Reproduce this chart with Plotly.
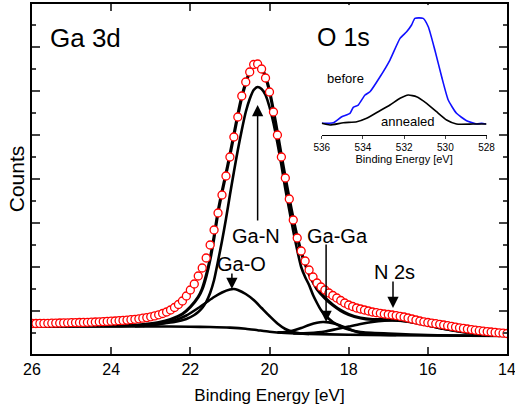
import plotly.graph_objects as go

# ---------------- main spectrum: Ga 3d (measured points, every 0.1 eV) -------------
energy = [26.0, 25.9, 25.8, 25.7, 25.6, 25.5, 25.4, 25.3, 25.2, 25.1,
          25.0, 24.9, 24.8, 24.7, 24.6, 24.5, 24.4, 24.3, 24.2, 24.1,
          24.0, 23.9, 23.8, 23.7, 23.6, 23.5, 23.4, 23.3, 23.2, 23.1,
          23.0, 22.9, 22.8, 22.7, 22.6, 22.5, 22.4, 22.3, 22.2, 22.1,
          22.0, 21.9, 21.8, 21.7, 21.6, 21.5, 21.4, 21.3, 21.2, 21.1,
          21.0, 20.9, 20.8, 20.7, 20.6, 20.5, 20.4, 20.3, 20.2, 20.1,
          20.0, 19.9, 19.8, 19.7, 19.6, 19.5, 19.4, 19.3, 19.2, 19.1,
          19.0, 18.9, 18.8, 18.7, 18.6, 18.5, 18.4, 18.3, 18.2, 18.1,
          18.0, 17.9, 17.8, 17.7, 17.6, 17.5, 17.4, 17.3, 17.2, 17.1,
          17.0, 16.9, 16.8, 16.7, 16.6, 16.5, 16.4, 16.3, 16.2, 16.1,
          16.0, 15.9, 15.8, 15.7, 15.6, 15.5, 15.4, 15.3, 15.2, 15.1,
          15.0, 14.9, 14.8, 14.7, 14.6, 14.5, 14.4, 14.3, 14.2, 14.1,
          14.0]
counts = [31.5, 31.5, 31.6, 31.6, 31.7, 31.8, 31.9, 32.0, 32.1, 32.2,
          32.3, 32.4, 32.5, 32.6, 32.7, 32.8, 33.0, 33.2, 33.4, 33.6,
          33.8, 34.0, 34.3, 34.6, 34.9, 35.3, 35.7, 36.2, 36.8, 37.4,
          38.2, 39.1, 40.2, 41.5, 43.0, 45.0, 47.5, 50.5, 54.0, 59.0,
          65.0, 71.0, 79.0, 87.0, 97.0, 110.0, 125.0, 142.0, 160.0, 179.0,
          198.0, 218.0, 238.0, 259.0, 273.0, 283.0, 290.5, 291.0, 286.0, 277.0,
          263.0, 243.0, 220.0, 198.0, 177.0, 156.0, 135.0, 117.0, 104.0, 94.0,
          85.0, 78.0, 72.0, 68.0, 65.0, 62.0, 59.5, 57.0, 54.5, 52.0,
          50.0, 48.5, 47.0, 46.0, 45.0, 44.0, 43.0, 42.3, 41.7, 41.0,
          40.5, 40.0, 39.4, 38.7, 38.0, 37.0, 36.0, 35.0, 34.0, 33.2,
          32.5, 31.9, 31.3, 30.7, 30.0, 29.3, 28.6, 27.9, 27.2, 26.6,
          26.0, 25.4, 24.8, 24.3, 23.8, 23.4, 23.0, 22.6, 22.2, 21.8,
          21.5]

# ---------------- fitted curves ------------------------------------------------------
env_E = [26.0, 24.0, 23.5, 23.2, 22.8, 22.5, 22.2, 22.0, 21.8, 21.7, 21.6, 21.5,
         21.4, 21.3, 21.2, 21.1, 21.0, 20.9, 20.8, 20.7, 20.6, 20.5, 20.4, 20.3,
         20.2, 20.1, 20.0, 19.9, 19.8, 19.7, 19.6, 19.5, 19.4, 19.3, 19.2, 19.1,
         19.0, 18.9, 18.8, 18.6, 18.4, 18.2, 18.0, 17.7, 17.4, 17.1, 16.8, 16.5,
         16.2, 15.9, 15.6, 15.3, 15.0, 14.6, 14.0]
env_c = [28.6, 29.0, 29.7, 30.5, 32.5, 35.5, 41.0, 48.0, 58.0, 66.0, 79.0, 96.0,
         118.0, 143.0, 163.0, 181.0, 200.0, 220.0, 240.0, 258.0, 272.0, 283.0, 289.0, 291.0,
         287.0, 278.0, 264.0, 244.0, 222.0, 199.0, 177.0, 156.0, 136.0, 118.0, 103.0, 91.0,
         81.0, 73.0, 66.0, 57.0, 50.0, 44.5, 40.5, 37.0, 35.5, 35.3, 35.0, 33.5,
         31.5, 29.0, 26.5, 24.5, 22.8, 21.2, 20.0]

bg_E = [26.0, 23.0, 22.0, 21.5, 21.0, 20.6, 20.3, 20.0, 19.6, 19.0, 18.0, 16.0, 14.0]
bg_c = [28.5, 28.5, 28.3, 28.0, 27.4, 26.3, 24.8, 23.3, 22.0, 21.0, 20.3, 19.5, 19.0]

gan_E = [23.2, 22.8, 22.4, 22.1, 21.9, 21.8, 21.7, 21.6, 21.5, 21.4, 21.3, 21.2,
         21.1, 21.0, 20.9, 20.8, 20.7, 20.6, 20.5, 20.4, 20.3, 20.2, 20.1, 20.0,
         19.9, 19.8, 19.7, 19.6, 19.5, 19.4, 19.3, 19.2, 19.1, 19.0, 18.9, 18.8,
         18.7, 18.6, 18.4, 18.2, 18.0, 17.7, 17.0, 16.0, 14.0]
gan_c = [29.0, 31.0, 33.0, 36.0, 40.0, 43.0, 47.0, 53.0, 62.0, 75.0, 94.0, 114.0,
         136.0, 160.0, 183.0, 205.0, 225.0, 243.0, 256.0, 265.0, 268.0, 266.0, 260.0, 248.0,
         232.0, 212.0, 190.0, 166.0, 145.0, 124.0, 105.0, 88.0, 78.0, 70.0, 60.0, 52.0,
         45.0, 40.0, 33.0, 28.5, 25.5, 23.0, 21.5, 20.0, 19.2]

gao_E = [23.4, 23.0, 22.7, 22.4, 22.1, 21.8, 21.6, 21.4, 21.2, 21.0, 20.9, 20.8,
         20.6, 20.4, 20.2, 20.0, 19.8, 19.6, 19.4, 19.2, 19.0]
gao_c = [28.8, 29.8, 31.5, 34.5, 39.5, 47.0, 52.5, 58.0, 62.5, 65.5, 66.0, 65.0,
         61.0, 55.0, 47.0, 39.0, 31.5, 26.0, 23.0, 21.5, 21.0]

gaga_E = [19.8, 19.6, 19.4, 19.2, 19.0, 18.8, 18.65, 18.5, 18.3, 18.1, 17.9, 17.7,
          17.5, 17.2, 16.8]
gaga_c = [22.6, 23.0, 24.5, 27.0, 30.0, 32.3, 33.0, 32.6, 30.8, 27.8, 24.5, 22.0,
          20.8, 20.2, 20.0]

n2s_E = [19.4, 19.0, 18.6, 18.3, 18.0, 17.7, 17.4, 17.1, 16.9, 16.6, 16.3, 16.0,
         15.7, 15.4, 15.1, 14.8, 14.4, 14.0]
n2s_c = [21.5, 22.0, 23.5, 26.0, 28.5, 31.0, 33.0, 34.2, 34.5, 34.0, 32.3, 29.8,
         27.0, 24.8, 22.8, 21.3, 20.0, 19.5]

# ---------------- inset: O 1s ----------------------------------------------------------
o1s_before_E = [536.0, 535.44, 535.03, 534.63, 534.47, 534.23, 533.9, 533.66, 533.17,
                532.69, 532.2, 531.88, 531.64, 531.48, 531.08, 530.83, 530.51, 530.18,
                529.86, 529.46, 528.97, 528.48, 528.24, 528.03]
o1s_before_c = [11.7, 12.3, 18.3, 21.7, 27.7, 30.0, 40.0, 43.3, 58.3,
                75.0, 96.7, 103.3, 110.0, 116.7, 116.7, 108.3, 85.0, 58.3,
                35.0, 21.7, 14.3, 11.0, 11.7, 11.0]
o1s_annealed_E = [536.0, 535.6, 534.95, 534.3, 533.82, 533.26, 532.69, 532.2, 531.8,
                  531.4, 530.91, 530.43, 529.94, 529.46, 528.65, 528.0]
o1s_annealed_c = [11.7, 10.0, 12.3, 13.3, 16.7, 23.3, 30.0, 36.7, 40.0,
                  38.3, 31.7, 23.3, 15.0, 11.0, 11.0, 11.0]
inset_ticks = [536, 534, 532, 530, 528]

FONT = "Liberation Sans, Arial, sans-serif"
LW = 2.6

fig = go.Figure()

def comp(xs, ys, width=LW):
    fig.add_trace(go.Scatter(x=xs, y=ys, mode="lines", line=dict(color="black", width=width, shape="spline", smoothing=0.6),
                             showlegend=False, hoverinfo="skip"))

comp(bg_E, bg_c)
comp(gao_E, gao_c)
comp(gaga_E, gaga_c)
comp(n2s_E, n2s_c)
comp(gan_E, gan_c)
comp(env_E, env_c, 3.2)

fig.add_trace(go.Scatter(x=energy, y=counts, mode="markers",
                         marker=dict(symbol="circle", size=8, color="white",
                                     line=dict(color="#ff0000", width=1.3)),
                         showlegend=False))

fig.add_trace(go.Scatter(x=o1s_before_E, y=o1s_before_c, mode="lines", xaxis="x2", yaxis="y2",
                         line=dict(color="#1010ff", width=1.6, shape="spline", smoothing=0.5), showlegend=False))
fig.add_trace(go.Scatter(x=o1s_annealed_E, y=o1s_annealed_c, mode="lines", xaxis="x2", yaxis="y2",
                         line=dict(color="black", width=1.6, shape="spline", smoothing=0.5), showlegend=False))

fig.update_layout(
    width=515, height=415,
    margin=dict(l=32, r=8, t=4, b=61, autoexpand=False),
    paper_bgcolor="white", plot_bgcolor="white",
    font=dict(family=FONT, color="black"),
    xaxis=dict(range=[26, 14], tick0=14, dtick=2, ticks="inside", ticklen=7, tickwidth=1.5,
               showline=True, linecolor="black", linewidth=1.6, mirror="ticks",
               showgrid=False, zeroline=False, tickfont=dict(size=16), automargin=False,
               ticklabeloverflow="allow",
               title=dict(text="Binding Energy [eV]", font=dict(size=17), standoff=12)),
    yaxis=dict(range=[1, 351], tick0=0, dtick=44, ticks="inside", ticklen=8, tickwidth=1.5,
               minor=dict(tick0=0, dtick=22, ticks="inside", ticklen=4, tickwidth=1.5, showgrid=False),
               showline=True, linecolor="black", linewidth=1.6, mirror="ticks",
               showgrid=False, zeroline=False, showticklabels=False, automargin=False,
               title=dict(text="Counts", font=dict(size=21), standoff=0)),
    xaxis2=dict(domain=[0.610, 0.957], anchor="y2", range=[536, 528], tickvals=inset_ticks,
                ticks="outside", ticklen=3, tickwidth=1, showline=True, linecolor="black", linewidth=1,
                showgrid=False, zeroline=False, tickfont=dict(size=10), automargin=False,
                title=dict(text="Binding Energy [eV]", font=dict(size=11), standoff=2)),
    yaxis2=dict(domain=[0.6257, 0.997], anchor="x2", range=[0, 130], visible=False),
)

# text labels
def label(text, x, y, size, xref="paper", yref="paper"):
    fig.add_annotation(text=text, xref=xref, yref=yref, x=x, y=y, xanchor="center", yanchor="middle",
                       showarrow=False, font=dict(size=size))

label("Ga 3d", 0.1126, 0.903, 26)
label("O 1s", 0.655, 0.906, 25)
label("before", 0.659, 0.786, 13)
label("annealed", 0.7916, 0.6657, 13)

labels = [("Ga-N", 20.34, 119), ("Ga-O", 20.72, 91), ("Ga-Ga", 18.29, 119), ("N 2s", 16.85, 83)]
for t, x, y in labels:
    label(t, x, y, 20, "x", "y")

# arrows (tip at data point, tail offset in pixels)
arrows = [(20.30, 250, 117), (20.95, 66, -17), (18.57, 33, -79), (16.88, 47, -28)]
for x, y, ay in arrows:
    fig.add_annotation(text="", x=x, y=y, ax=0, ay=ay, showarrow=True,
                       arrowhead=2, arrowsize=1.5, arrowwidth=1.5, arrowcolor="black")

fig.write_html("out.html", config={"displayModeBar": False},
               post_script="document.body.style.margin='0';")
